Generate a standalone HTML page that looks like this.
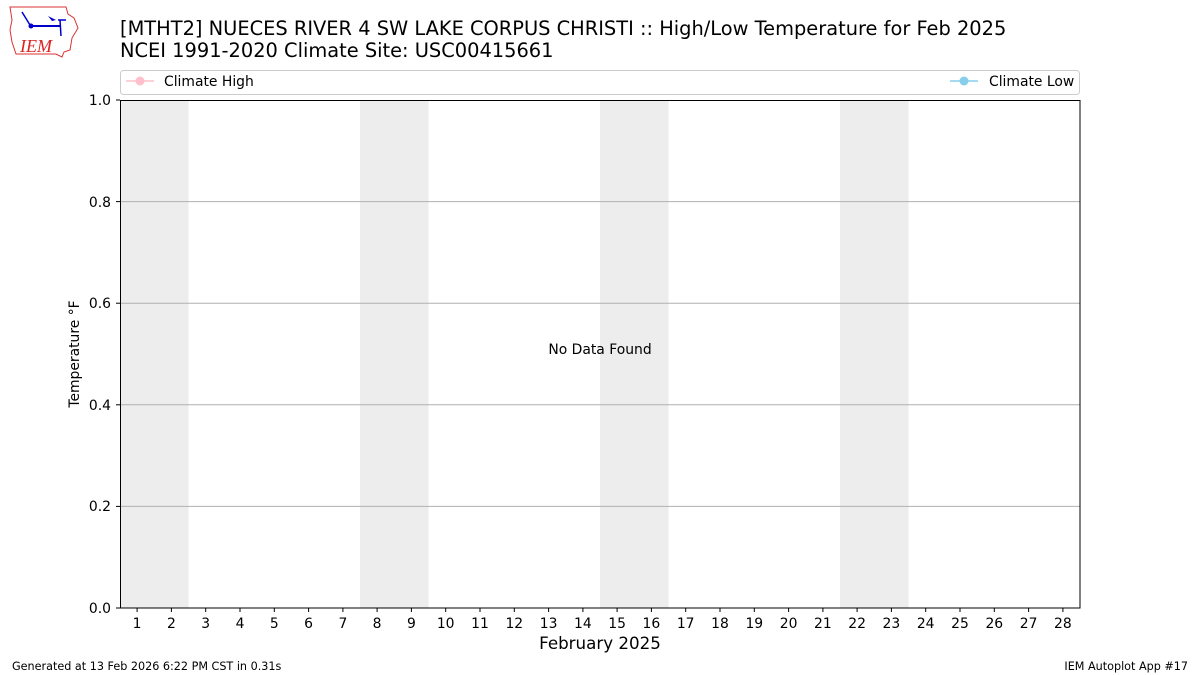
<!DOCTYPE html>
<html><head><meta charset="utf-8"><style>
html,body{margin:0;padding:0;background:#fff;}
svg{display:block;font-family:"DejaVu Sans","Liberation Sans",sans-serif;}
</style></head><body>
<svg width="1200" height="675" viewBox="0 0 1200 675" xmlns="http://www.w3.org/2000/svg">
<rect width="1200" height="675" fill="#fff"/>
<g>
<path d="M10 7 L66 7 L68 14 L74 18 L78 28 L72 38 L70 50 L64 52 L62 57 L56 54 L16 54 L12 42 L10 30 L12 20 Z" fill="none" stroke="#d33" stroke-width="1"/>
<line x1="31" y1="26" x2="60" y2="26" stroke="#00c" stroke-width="2"/>
<circle cx="31" cy="26" r="2.5" fill="#00c"/>
<line x1="22" y1="12" x2="30" y2="25" stroke="#00c" stroke-width="1.5"/>
<path d="M48 16 L56 20 L52 21 Z" fill="#00c"/>
<line x1="58" y1="20" x2="66" y2="20" stroke="#00c" stroke-width="1.5"/>
<line x1="60" y1="20" x2="61" y2="36" stroke="#00c" stroke-width="1.5"/>
<text x="20" y="52" font-family="Liberation Serif,serif" font-style="italic" font-size="18" fill="#d22">IEM</text>
</g>
<text x="120" y="35" font-size="19.4">[MTHT2] NUECES RIVER 4 SW LAKE CORPUS CHRISTI :: High/Low Temperature for Feb 2025</text>
<text x="120" y="57" font-size="19.4">NCEI 1991-2020 Climate Site: USC00415661</text>
<rect x="120.5" y="70.5" width="959" height="24" rx="3" fill="#fff" stroke="#ccc"/>
<line x1="126" y1="81" x2="154" y2="81" stroke="pink" stroke-width="1.5"/>
<circle cx="140" cy="81" r="4.5" fill="pink"/>
<text x="164" y="86" font-size="13.9">Climate High</text>
<line x1="950" y1="81" x2="978" y2="81" stroke="skyblue" stroke-width="1.5"/>
<circle cx="964" cy="81" r="4.5" fill="skyblue"/>
<text x="989" y="86" font-size="13.9">Climate Low</text>
<g fill="#ededed">
<rect x="120" y="100" width="68.6" height="508"/>
<rect x="360" y="100" width="68.6" height="508"/>
<rect x="600" y="100" width="68.6" height="508"/>
<rect x="840" y="100" width="68.6" height="508"/>
</g>
<g stroke="#b0b0b0" stroke-width="1">
<line x1="120" y1="201.6" x2="1080" y2="201.6"/>
<line x1="120" y1="303.2" x2="1080" y2="303.2"/>
<line x1="120" y1="404.8" x2="1080" y2="404.8"/>
<line x1="120" y1="506.4" x2="1080" y2="506.4"/>
</g>
<rect x="120.5" y="100.5" width="959.5" height="507.5" fill="none" stroke="#000" stroke-width="1"/>
<g font-size="13.9" text-anchor="end">
<line x1="116" y1="608" x2="120" y2="608" stroke="#000"/><text x="111" y="613">0.0</text>
<line x1="116" y1="506.4" x2="120" y2="506.4" stroke="#000"/><text x="111" y="511">0.2</text>
<line x1="116" y1="404.8" x2="120" y2="404.8" stroke="#000"/><text x="111" y="410">0.4</text>
<line x1="116" y1="303.2" x2="120" y2="303.2" stroke="#000"/><text x="111" y="308">0.6</text>
<line x1="116" y1="201.6" x2="120" y2="201.6" stroke="#000"/><text x="111" y="207">0.8</text>
<line x1="116" y1="100" x2="120" y2="100" stroke="#000"/><text x="111" y="105">1.0</text>
</g>
<text transform="translate(79,354) rotate(-90)" font-size="13.9" text-anchor="middle">Temperature °F</text>
<text x="600" y="354" font-size="13.9" text-anchor="middle">No Data Found</text>
<text x="600" y="649" font-size="16.7" text-anchor="middle">February 2025</text>
<text x="12" y="670" font-size="11.2">Generated at 13 Feb 2026 6:22 PM CST in 0.31s</text>
<text x="1188" y="670" font-size="11.2" text-anchor="end">IEM Autoplot App #17</text>
<g font-size="13.9" text-anchor="middle">
<g stroke="#000">
<line x1="137.1" y1="608" x2="137.1" y2="612"/><line x1="171.4" y1="608" x2="171.4" y2="612"/><line x1="205.7" y1="608" x2="205.7" y2="612"/><line x1="240" y1="608" x2="240" y2="612"/><line x1="274.3" y1="608" x2="274.3" y2="612"/><line x1="308.6" y1="608" x2="308.6" y2="612"/><line x1="342.9" y1="608" x2="342.9" y2="612"/><line x1="377.1" y1="608" x2="377.1" y2="612"/><line x1="411.4" y1="608" x2="411.4" y2="612"/><line x1="445.7" y1="608" x2="445.7" y2="612"/><line x1="480" y1="608" x2="480" y2="612"/><line x1="514.3" y1="608" x2="514.3" y2="612"/><line x1="548.6" y1="608" x2="548.6" y2="612"/><line x1="582.9" y1="608" x2="582.9" y2="612"/><line x1="617.1" y1="608" x2="617.1" y2="612"/><line x1="651.4" y1="608" x2="651.4" y2="612"/><line x1="685.7" y1="608" x2="685.7" y2="612"/><line x1="720" y1="608" x2="720" y2="612"/><line x1="754.3" y1="608" x2="754.3" y2="612"/><line x1="788.6" y1="608" x2="788.6" y2="612"/><line x1="822.9" y1="608" x2="822.9" y2="612"/><line x1="857.1" y1="608" x2="857.1" y2="612"/><line x1="891.4" y1="608" x2="891.4" y2="612"/><line x1="925.7" y1="608" x2="925.7" y2="612"/><line x1="960" y1="608" x2="960" y2="612"/><line x1="994.3" y1="608" x2="994.3" y2="612"/><line x1="1028.6" y1="608" x2="1028.6" y2="612"/><line x1="1062.9" y1="608" x2="1062.9" y2="612"/>
</g>
<text x="137.1" y="628">1</text><text x="171.4" y="628">2</text><text x="205.7" y="628">3</text><text x="240" y="628">4</text><text x="274.3" y="628">5</text><text x="308.6" y="628">6</text><text x="342.9" y="628">7</text><text x="377.1" y="628">8</text><text x="411.4" y="628">9</text><text x="445.7" y="628">10</text><text x="480" y="628">11</text><text x="514.3" y="628">12</text><text x="548.6" y="628">13</text><text x="582.9" y="628">14</text><text x="617.1" y="628">15</text><text x="651.4" y="628">16</text><text x="685.7" y="628">17</text><text x="720" y="628">18</text><text x="754.3" y="628">19</text><text x="788.6" y="628">20</text><text x="822.9" y="628">21</text><text x="857.1" y="628">22</text><text x="891.4" y="628">23</text><text x="925.7" y="628">24</text><text x="960" y="628">25</text><text x="994.3" y="628">26</text><text x="1028.6" y="628">27</text><text x="1062.9" y="628">28</text>
</g>
</svg>
</body></html>
